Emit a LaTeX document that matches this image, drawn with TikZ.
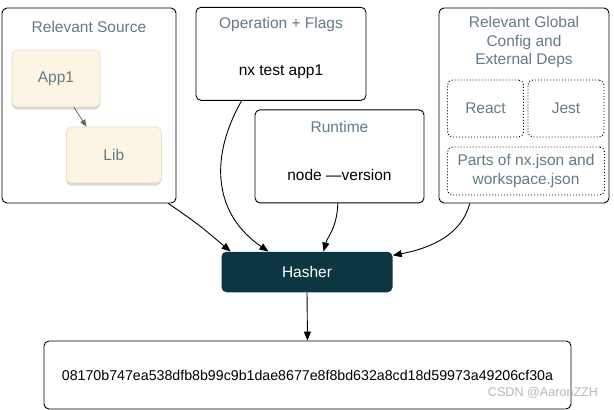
\documentclass[tikz,border=0pt]{standalone}
\usepackage{fontspec}
\setmainfont{Liberation Sans}
\usepackage{tikz}
\usetikzlibrary{arrows.meta,shadows}
\definecolor{titlegray}{HTML}{637B88}
\definecolor{creamfill}{HTML}{FCF5E3}
\definecolor{creamline}{HTML}{E4DAC2}
\definecolor{hasherfill}{HTML}{0B3642}
\tikzset{
	box/.style={draw=black, line width=0.9pt, rounded corners=5pt, inner sep=0pt},
	pkg/.style={fill=creamfill, draw=creamline, line width=0.6pt, rounded corners=5pt, text=titlegray, font=\fontsize{15.5}{18}\selectfont, drop shadow={shadow xshift=0pt, shadow yshift=-2.5pt, opacity=0.3}},
	dep/.style={draw=black, dash pattern=on 1pt off 2pt, line width=0.9pt, rounded corners=5pt, text=titlegray, font=\fontsize{15.5}{18.5}\selectfont, align=center},
	boxtitle/.style={text=titlegray, font=\fontsize{15.5}{18.5}\selectfont, align=center},
	bodytext/.style={font=\fontsize{15.5}{18.5}\selectfont, align=center},
	feed/.style={line width=0.9pt, -{Triangle[length=9pt,width=7pt]}},
}

\begin{document}
\begin{tikzpicture}[x=1pt, y=-1pt]
			%%%%% START %%%%%
			\useasboundingbox[fill=white] (0,0) rectangle (614,410);
			
			\node[box, minimum width=174pt, minimum height=195pt] (src) at (89,105.5) {};
			\node[boxtitle] (srcT) at (89,27) {Relevant Source};
			\node[pkg, minimum width=88pt, minimum height=57pt] (app) at (56,78.5) {App1};
			\node[pkg, minimum width=95pt, minimum height=56pt] (lib) at (113.8,155) {Lib};
			\draw[line width=0.8pt, -{Triangle[length=7pt,width=5.5pt]}, black!60] (app.-58) -- (lib.134);
			
			\node[box, minimum width=170pt, minimum height=93pt] (op) at (281,53.8) {};
			\node[boxtitle] (opT) at (281,24) {Operation + Flags};
			\node[bodytext] (opC) at (281,72) {nx test app1};
			
			\node[box, minimum width=169pt, minimum height=93pt] (rt) at (339.5,156.4) {};
			\node[boxtitle] (rtT) at (339.5,127) {Runtime};
			\node[bodytext] (rtC) at (339.5,175) {node —version};
			
			\node[box, minimum width=170pt, minimum height=195pt] (glob) at (524,105.5) {};
			\node[boxtitle] (globT) at (524,42) {Relevant Global\\Config and\\External Deps};
			\node[dep, minimum width=76pt, minimum height=57pt] (react) at (485.5,108.5) {React};
			\node[dep, minimum width=76pt, minimum height=57pt] (jest) at (566,108.5) {Jest};
			\node[dep, minimum width=157pt, minimum height=48pt] (parts) at (526,171) {Parts of nx.json and\\workspace.json};
			
			\node[fill=hasherfill, rounded corners=5pt, minimum width=171pt, minimum height=40.5pt, text=white, font=\fontsize{15.5}{18}\selectfont] (hasher) at (307,272) {Hasher};
			
			\node[box, minimum width=527pt, minimum height=68pt, font=\fontsize{14.2}{17}\selectfont] (hash) at (307.5,375) {08170b747ea538dfb8b99c9b1dae8677e8f8bd632a8cd18d59973a49206cf30a};
			
			\draw[feed] (src.-51) .. controls (198,224) .. (hasher.165);
			\draw[feed] (op.-130) .. controls (208,160) and (215,215) .. (hasher.152);
			\draw[feed] (rt.-92) .. controls +(-1,25) and +(4,-15) .. (hasher.51);
			\draw[feed] (glob.-119) .. controls (462,234) and (432,248) .. (hasher.11);
			\draw[feed] (hasher.south) -- (hash.north);
			
			\node[text=black!28, font=\fontsize{12.6}{15}\selectfont] (mark) at (543,393) {CSDN @AaronZZH};
			
			%%%%% END %%%%%
		\end{tikzpicture}
\end{document}
